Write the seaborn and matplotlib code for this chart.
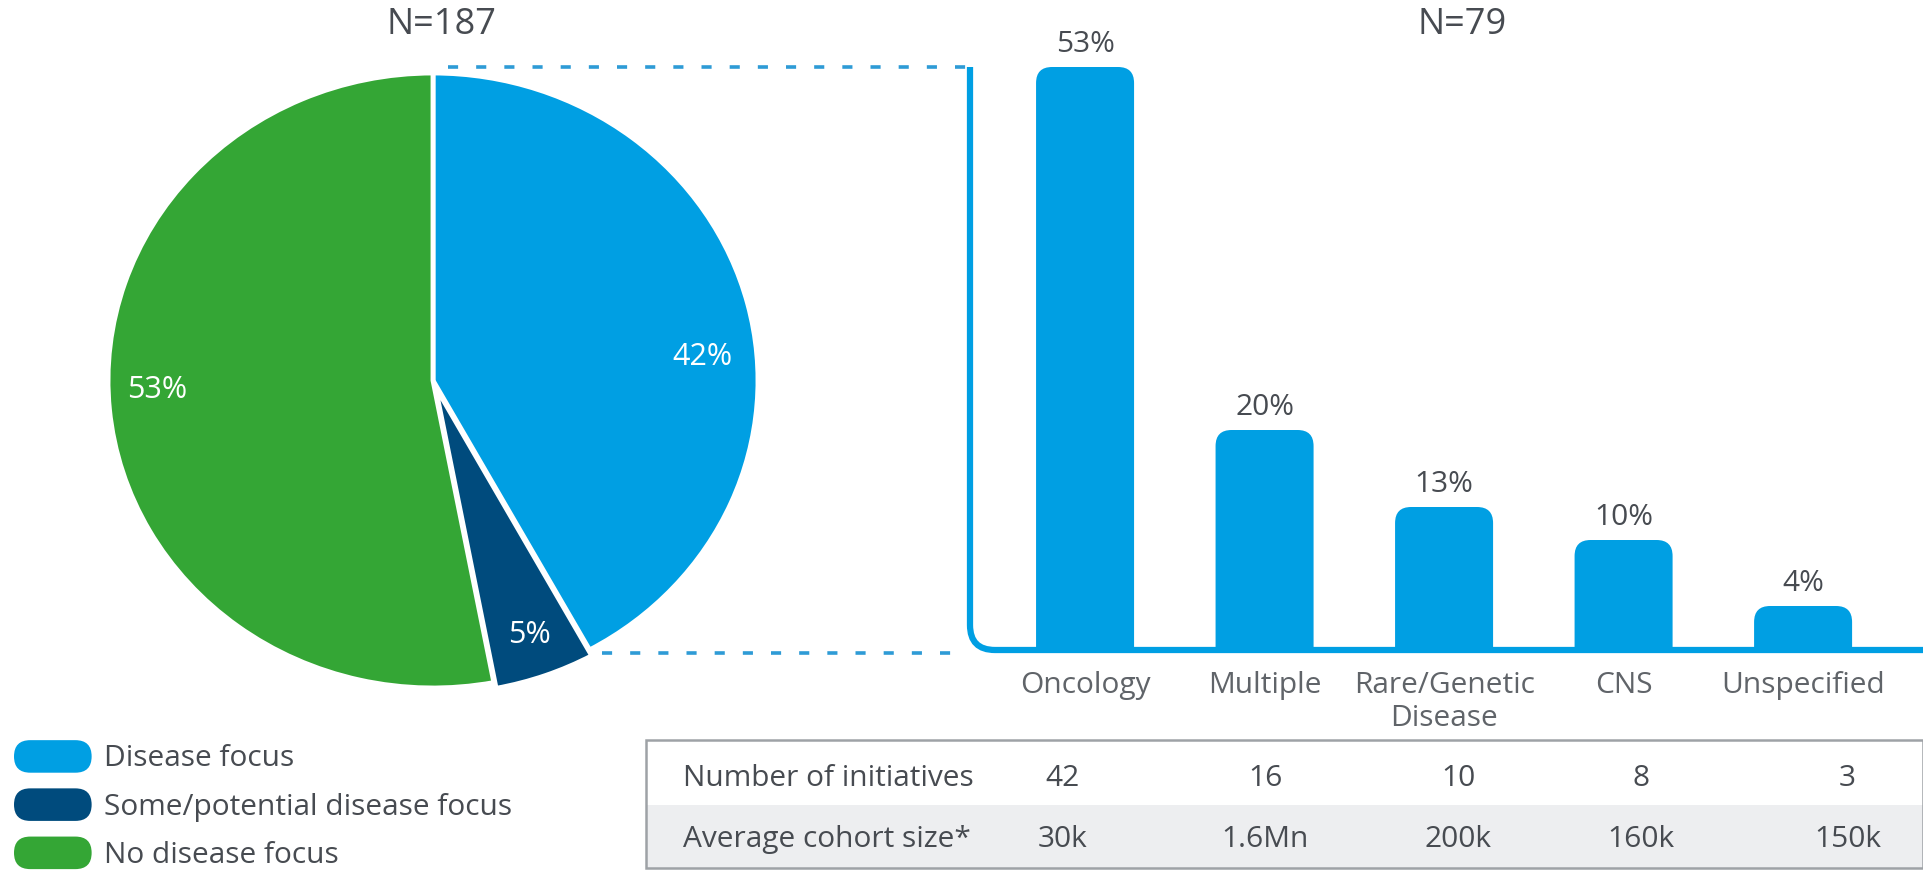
import matplotlib
matplotlib.use("Agg")
import matplotlib.pyplot as plt
import seaborn as sns
import numpy as np
from matplotlib.patches import FancyBboxPatch, Patch, PathPatch, Rectangle
from matplotlib.path import Path
from matplotlib.lines import Line2D
from matplotlib.legend_handler import HandlerPatch

# ---------------- data ----------------
pie_labels = ["Disease focus", "Some/potential disease focus", "No disease focus"]
pie_values = [42, 5, 53]
pie_n = "N=187"

categories = ["Oncology", "Multiple", "Rare/Genetic\nDisease", "CNS", "Unspecified"]
shares = [53, 20, 13, 10, 4]
bar_n = "N=79"

row_labels = ["Number of initiatives", "Average cohort size*"]
n_initiatives = ["42", "16", "10", "8", "3"]
cohort_size = ["30k", "1.6Mn", "200k", "160k", "150k"]

# ---------------- style ----------------
BLUE = "#009FE3"
DARK = "#004B7D"
GREEN = "#34A635"
TEXT = "#474B51"
CAT = "#606469"
pie_colors = [BLUE, DARK, GREEN]
FS = 21.5

sns.set_theme(style="white")
plt.rcParams["font.family"] = ["Open Sans", "DejaVu Sans"]

W, H = 1923, 871
fig = plt.figure(figsize=(W / 100, H / 100), dpi=100)
fig.patch.set_facecolor("white")

def fx(px):
    return px / W

def fy(py):
    return 1 - py / H

# ---------------- pie ----------------
ax_pie = fig.add_axes([fx(108), fy(688), fx(650), 615 / H])
wedges, texts, autotexts = ax_pie.pie(
    pie_values, colors=pie_colors, startangle=90, counterclock=False,
    explode=[0, 0.02, 0],
    wedgeprops=dict(edgecolor="white", linewidth=3.5),
    autopct=lambda p: f"{p:.0f}%", pctdistance=0.86,
    textprops=dict(color="white", fontsize=22),
)
ax_pie.set_aspect("auto")
ax_pie.set_xlim(-1, 1)
ax_pie.set_ylim(-1, 1)
ax_pie.axis("off")
for w in wedges:
    w.set_clip_on(False)
autotexts[0].set_position((0.83, 0.075))
autotexts[2].set_position((-0.85, -0.03))

fig.text(fx(441), fy(25), pie_n, ha="center", va="center", fontsize=26, color=TEXT)

# ---------------- bars ----------------
ax_bar = fig.add_axes([fx(970), fy(650), 1 - fx(970), (650 - 67) / H])
sns.barplot(x=categories, y=shares, color=BLUE, saturation=1, width=0.546, ax=ax_bar)
ax_bar.set_xlim(-0.641, 4.668)
ax_bar.set_ylim(0, 53)
for s in ax_bar.spines.values():
    s.set_visible(False)
ax_bar.set_yticks([])
ax_bar.set_ylabel("")
ax_bar.tick_params(axis="x", length=0, pad=15, labelsize=FS, labelcolor=CAT)
ax_bar.set_facecolor("none")

cont = ax_bar.containers[0]
ax_bar.bar_label(cont, labels=[f"{v}%" for v in shares], padding=6, fontsize=FS, color=TEXT)

# rounded-top bars built from the drawn rectangles
p0 = ax_bar.transData.transform((0, 0))
p1 = ax_bar.transData.transform((1, 1))
pxx, pxy = p1[0] - p0[0], p1[1] - p0[1]
r_px = 16
rx, ry = r_px / pxx, r_px / pxy
for rect in list(cont.patches):
    x, w, h = rect.get_x(), rect.get_width(), rect.get_height()
    rect.set_visible(False)
    fb = FancyBboxPatch((x, -ry), w, h + ry,
                        boxstyle=f"round,pad=0,rounding_size={rx}",
                        mutation_aspect=ry / rx, fc=BLUE, ec="none", zorder=2)
    ax_bar.add_patch(fb)

# axis line with rounded corner
cx, cy = 25 / (W - 970), 25 / (650 - 67)
verts = [(0, 1), (0, cy), (0, 0), (cx, 0), (1.01, 0)]
codes = [Path.MOVETO, Path.LINETO, Path.CURVE3, Path.CURVE3, Path.LINETO]
ax_bar.add_patch(PathPatch(Path(verts, codes), fill=False, edgecolor=BLUE, lw=4.5,
                           transform=ax_bar.transAxes, clip_on=False, zorder=5,
                           capstyle="butt"))

fig.text(fx(1462), fy(25), bar_n, ha="center", va="center", fontsize=26, color=TEXT)

# dashed connectors
for x0, y0 in [(448, 67), (602, 653)]:
    fig.add_artist(Line2D([fx(x0), fx(966)], [fy(y0), fy(y0)], transform=fig.transFigure,
                          color="#2E9BD6", lw=2.6, dashes=(2.8, 5.0)))

# ---------------- table ----------------
ax_tab = fig.add_axes([fx(646), fy(868), 1 - fx(646), (868 - 740) / H])
ax_tab.set_xlim(0, 1)
ax_tab.set_ylim(0, 1)
ax_tab.axis("off")
split = (868 - 805) / 128
ax_tab.add_patch(Rectangle((0, 0), 1, split, fc="#EDEEF0", ec="none", zorder=0))
ax_tab.add_patch(Rectangle((0, 0), 1, 1, fill=False, ec="#9EA2A6", lw=1.8, zorder=3, clip_on=False))
col_x = [0.326, 0.485, 0.636, 0.779, 0.941]
row_y = [0.70, 0.225]
for ry_, lab, vals in zip(row_y, row_labels, [n_initiatives, cohort_size]):
    ax_tab.text(0.029, ry_, lab, ha="left", va="center", fontsize=FS, color=TEXT)
    for cxp, v in zip(col_x, vals):
        ax_tab.text(cxp, ry_, v, ha="center", va="center", fontsize=FS, color=TEXT)

# ---------------- legend ----------------
class HandlerRound(HandlerPatch):
    def create_artists(self, legend, orig_handle, xdescent, ydescent, width, height, fontsize, trans):
        p = FancyBboxPatch((-xdescent, -ydescent), width, height,
                           boxstyle=f"round,pad=0,rounding_size={height / 2}",
                           fc=orig_handle.get_facecolor(), ec="none", transform=trans)
        return [p]

handles = [Patch(facecolor=c, label=l) for c, l in zip(pie_colors, pie_labels)]
fig.legend(handles=handles, loc="center left", bbox_to_anchor=(fx(14), fy(805)),
           frameon=False, fontsize=FS, labelcolor=TEXT, handlelength=2.6, handleheight=1.3,
           handletextpad=0.4, labelspacing=0.5, borderpad=0, borderaxespad=0,
           handler_map={Patch: HandlerRound()})

fig.savefig("out.png", dpi=100, facecolor="white")
